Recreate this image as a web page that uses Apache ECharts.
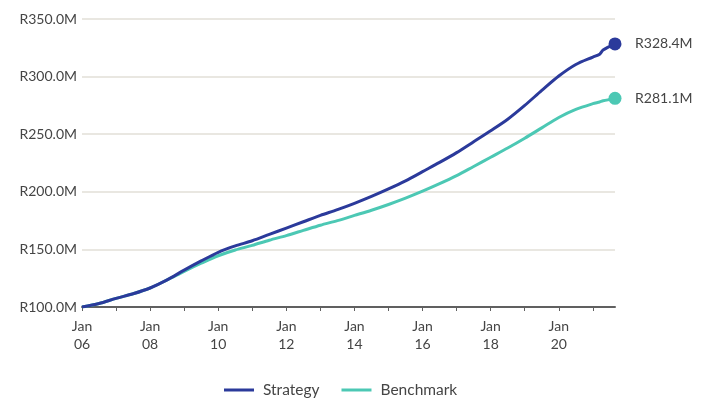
<!DOCTYPE html>
<html>
<head>
<meta charset="utf-8">
<script src="https://cdn.jsdelivr.net/npm/echarts@6/dist/echarts.min.js"></script>
<style>html,body{margin:0;padding:0;background:#fff}#c{width:710px;height:400px}</style>
</head>
<body>
<div id="c"></div>
<script>
var years = [2006.0, 2006.5, 2007.0, 2007.5, 2008.0, 2008.5, 2009.0, 2009.5, 2010.0, 2010.5,
  2011.0, 2011.5, 2012.0, 2012.5, 2013.0, 2013.5, 2014.0, 2014.5, 2015.0, 2015.5,
  2016.0, 2016.5, 2017.0, 2017.5, 2018.0, 2018.5, 2019.0, 2019.5, 2020.0, 2020.5,
  2021.0, 2021.2, 2021.3, 2021.65];
var strategy = [100, 103, 107.5, 111.5, 116.5, 123.5, 132, 140, 147.5, 153,
  157.5, 163, 168.5, 174, 179.5, 184.5, 190, 196, 202.5, 209.5,
  217.5, 225.5, 234, 243.5, 253, 263, 275, 288, 300.5, 310.5,
  317, 319.5, 323, 328.4];
var benchmark = [100, 103, 107.5, 111.5, 116.5, 123.5, 131, 138, 144.5, 149.5,
  153.5, 158, 162, 166.5, 171, 175, 179.5, 184, 189, 194.5,
  200.5, 207, 214, 222, 230, 238, 246.5, 255.5, 264.5, 271.5,
  276.5, 278, 279, 281.1];
var tickYears = [2006, 2007, 2008, 2009, 2010, 2011, 2012, 2013, 2014, 2015, 2016, 2017, 2018, 2019, 2020, 2021];
var labelYears = [2006, 2008, 2010, 2012, 2014, 2016, 2018, 2020];

function zip(xs, ys) { return xs.map(function (x, i) { return [x, ys[i]]; }); }
function fmtM(v) { return 'R' + v.toFixed(1) + 'M'; }

var chart = echarts.init(document.getElementById('c'));
var lastIdx = years.length - 1;
var txt = '#454545';
function mkSeries(name, vals, color) {
  return {
    name: name,
    type: 'line',
    smooth: 0.3,
    data: zip(years, vals),
    lineStyle: { width: 3, color: color },
    itemStyle: { color: color },
    showSymbol: true,
    showAllSymbol: true,
    symbol: 'circle',
    symbolSize: function (v, p) { return p.dataIndex === lastIdx ? 13 : 0; },
    endLabel: {
      show: true,
      formatter: function () { return fmtM(vals[lastIdx]); },
      color: txt,
      fontFamily: 'Lato',
      fontSize: 14,
      distance: 20
    },
    emphasis: { disabled: true },
    z: name === 'Strategy' ? 3 : 2
  };
}

chart.setOption({
  animation: false,
  textStyle: { fontFamily: 'Lato' },
  grid: { left: 82, right: 95, top: 19, bottom: 93 },
  legend: {
    top: 377,
    left: 219,
    data: ['Strategy', 'Benchmark'],
    icon: 'rect',
    itemWidth: 30,
    itemHeight: 3,
    itemGap: 22,
    textStyle: { color: txt, fontSize: 15.5, fontFamily: 'Lato', padding: [0, 0, 0, 4] }
  },
  xAxis: {
    type: 'value',
    min: 2006,
    max: 2021.65,
    axisLine: { show: true, lineStyle: { color: '#606060', width: 2 } },
    axisTick: { show: true, customValues: tickYears, length: 4, lineStyle: { color: '#606060', width: 1 } },
    axisLabel: {
      customValues: labelYears,
      formatter: function (v) { return 'Jan\n' + String(Math.round(v)).slice(2); },
      color: txt,
      fontSize: 14,
      lineHeight: 18,
      margin: 10
    },
    splitLine: { show: false }
  },
  yAxis: {
    type: 'value',
    min: 100,
    max: 350,
    interval: 50,
    axisLine: { show: false },
    axisTick: { show: false },
    axisLabel: { formatter: fmtM, color: txt, fontSize: 14, margin: 5 },
    splitLine: { lineStyle: { color: '#E9E7E1', width: 2 } }
  },
  series: [
    mkSeries('Strategy', strategy, '#2B3A9B'),
    mkSeries('Benchmark', benchmark, '#4CC8B4')
  ]
});
</script>
</body>
</html>
